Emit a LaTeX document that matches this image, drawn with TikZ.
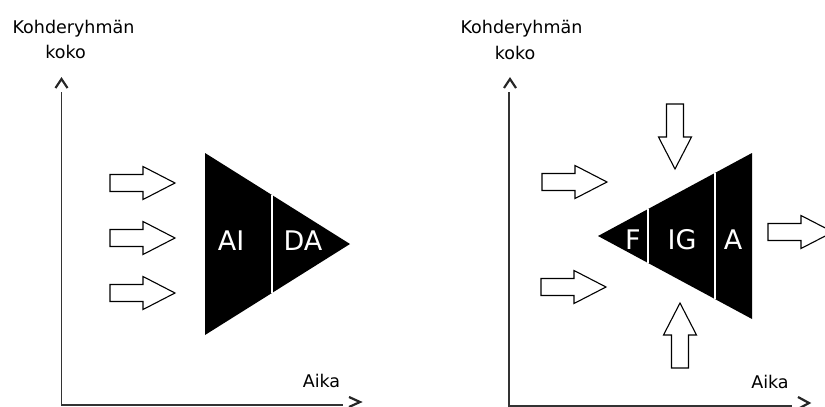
\documentclass[tikz,border=0pt]{standalone}
\usepackage{fontspec}
\setmainfont{DejaVu Sans}
\usetikzlibrary{calc}
\begin{document}
\begin{tikzpicture}[x=1pt,y=-1pt,
  axis/.style={draw=black!80, line width=1.3pt},
  axistip/.style={draw=black!85, line width=2.2pt},
  label/.style={font=\fontsize{17.5}{20}\selectfont, inner sep=0pt, anchor=base},
  stage/.style={font=\fontsize{27}{30}\selectfont, text=white, inner sep=0pt, anchor=base},
  funnel/.style={fill=black},
  divider/.style={draw=white, line width=1.6pt},
  outline/.style={draw=black, line width=1.1pt, fill=white, line join=miter},
  blockarrow/.pic={\path[outline] (0,-8.5) -- (33,-8.5) -- (33,-16.5) -- (65,0)
     -- (33,16.5) -- (33,8.5) -- (0,8.5) -- cycle;}
]
\useasboundingbox (0,0) rectangle (825,407);
\clip (0,0) rectangle (825,407);

% ---------- left panel: AIDA ----------
\coordinate (o1) at (61.5,405);
\coordinate (y1) at (61.5,92);
\coordinate (x1) at (343,405);
\draw[axis] (y1) -- (o1) -- (x1);
\draw[axistip] ([shift={(-6,-4)}]y1) -- ++(6,-9) -- ++(6,9);
\draw[axistip] ([shift={(6,-8)}]x1) -- ++(11,5) -- ++(-11,5);

\node[label] (t1) at (73.5,33) {Kohderyhmän};
\node[label] (k1) at (65.5,58) {koko};
\node[label] (a1) at (321.5,387) {Aika};

\coordinate (L1) at (205,153);
\coordinate (L2) at (350,244);
\coordinate (L3) at (205,335);
\fill[funnel] (L1) -- (L2) -- (L3) -- cycle;
\draw[divider] ($(L1)!0.462!(L2)$) -- ($(L3)!0.462!(L2)$);
\node[stage] (AI) at (231,250) {AI};
\node[stage] (DA) at (303,250) {DA};

\pic (in1) at (110,183) {blockarrow};
\pic (in2) at (110,238) {blockarrow};
\pic (in3) at (110,293) {blockarrow};

% ---------- right panel: FIGA ----------
\coordinate (o2) at (509,406);
\coordinate (y2) at (509,92);
\coordinate (x2) at (792,406);
\draw[axis] (y2) -- (o2) -- (x2);
\draw[axistip] ([shift={(-5,-4)}]y2) -- ++(6,-9) -- ++(6,9);
\draw[axistip] ([shift={(6,-9)}]x2) -- ++(11,6) -- ++(-11,6);

\node[label] (t2) at (521.5,33) {Kohderyhmän};
\node[label] (k2) at (515,59) {koko};
\node[label] (a2) at (770,388) {Aika};

\coordinate (R1) at (598,236);
\coordinate (R2) at (752,153);
\coordinate (R3) at (752,319);
\fill[funnel] (R1) -- (R2) -- (R3) -- cycle;
\draw[divider] ($(R1)!0.3247!(R2)$) -- ($(R1)!0.3247!(R3)$);
\draw[divider] ($(R1)!0.7597!(R2)$) -- ($(R1)!0.7597!(R3)$);
\node[stage] (F)  at (633,249) {F};
\node[stage] (IG) at (682,249) {IG};
\node[stage] (A)  at (733,249) {A};

\pic (in4) at (542,182) {blockarrow};
\pic (in5) at (541,287) {blockarrow};
\pic[rotate=-90] (in6) at (675,104) {blockarrow};
\pic[rotate=90] (in7) at (680,368) {blockarrow};
\pic (out1) at (768,232) {blockarrow};
\end{tikzpicture}
\end{document}
